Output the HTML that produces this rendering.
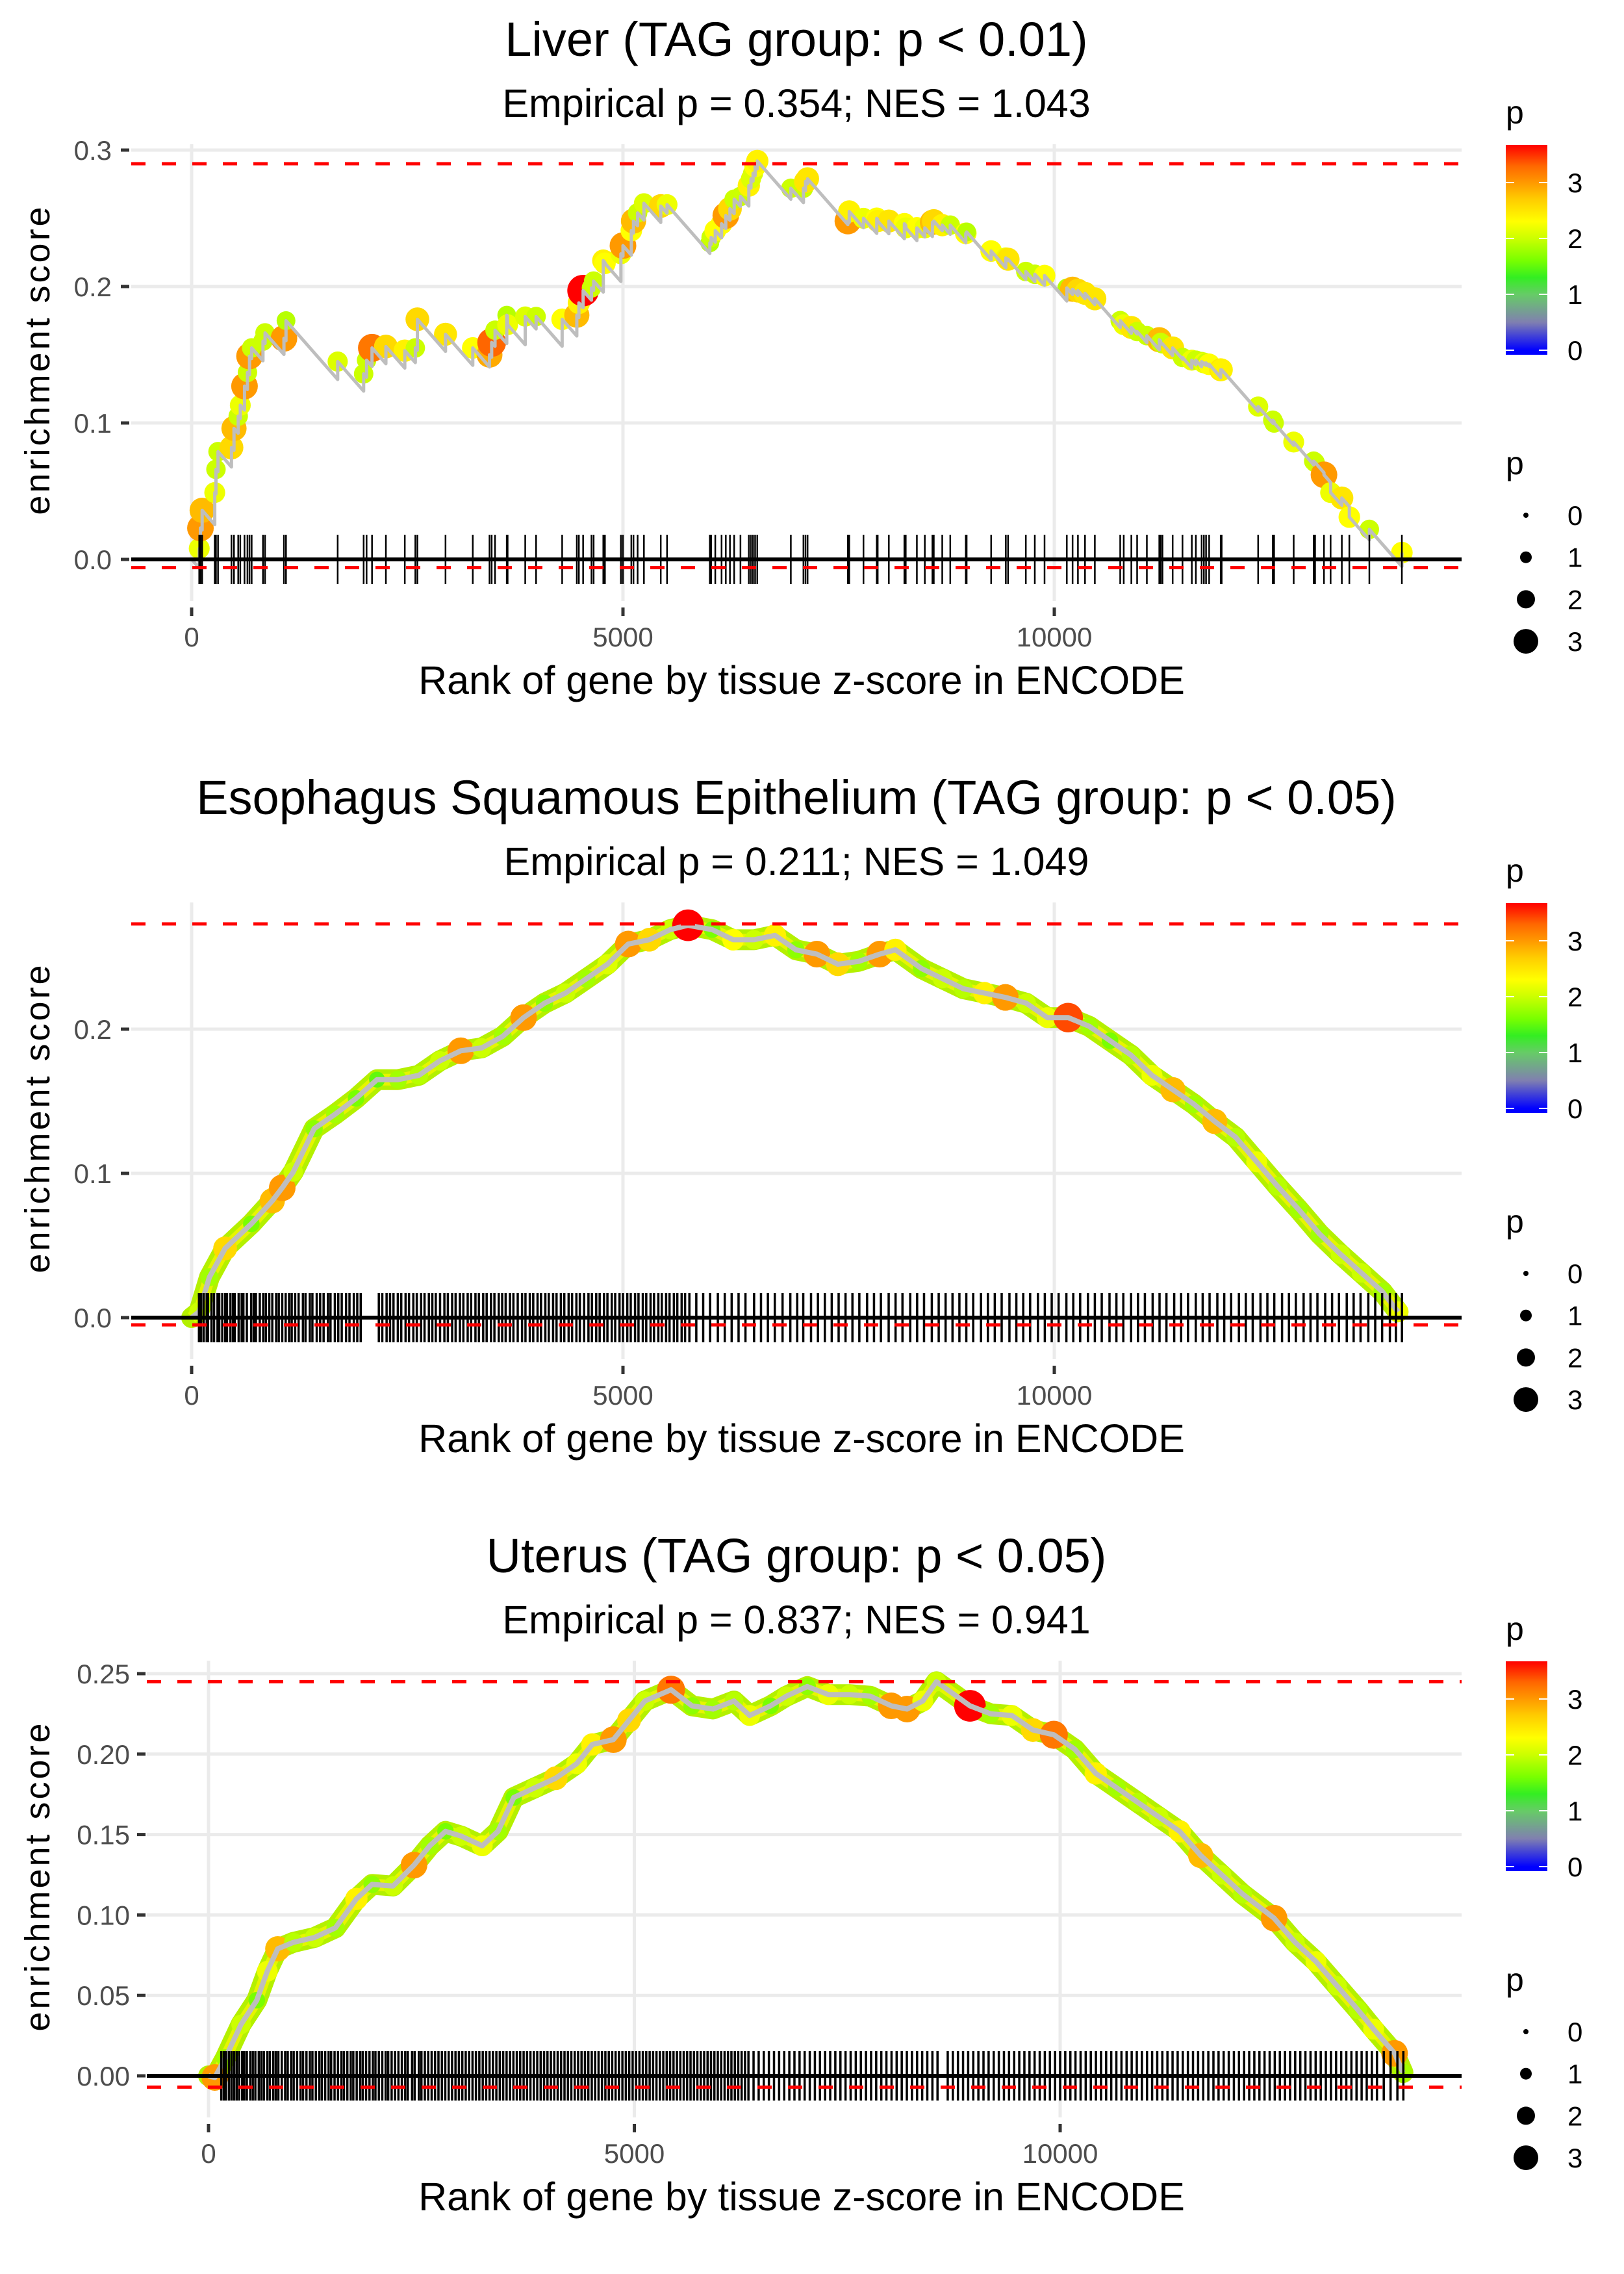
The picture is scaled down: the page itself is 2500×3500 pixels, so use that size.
<!DOCTYPE html>
<html><head><meta charset="utf-8"><style>
html,body{margin:0;padding:0;background:#fff}
svg{display:block}
text{font-family:"Liberation Sans",Arial,sans-serif}
</style></head><body>
<svg id="fig" width="2500" height="3500" viewBox="0 0 2500 3500" xmlns="http://www.w3.org/2000/svg"></svg>
<script>
// ---------- DATA ----------
const liverRank=[88,102,122,268,282,306,462,491,540,564,613,647,671,696,827,851,1070,1094,1693,1994,2028,2091,2252,2471,2593,2617,2943,3259,3453,3478,3517,3653,3663,3867,3993,4295,4465,4489,4538,4635,4660,4772,4791,4976,5000,5097,5122,5170,5243,5438,5511,6007,6022,6070,6143,6192,6240,6289,6362,6459,6484,6508,6532,6557,6946,7092,7116,7140,7607,7623,7788,7942,7953,8082,8262,8278,8407,8499,8587,8603,8701,8794,8974,8984,9268,9438,9464,9670,9774,9887,10145,10212,10274,10356,10470,10764,10805,10893,10960,11073,11217,11233,11254,11372,11486,11594,11641,11708,11734,11759,11795,11929,11940,12363,12533,12548,12775,13007,13023,13126,13203,13333,13420,13652,14029];
const liverES=[.008,.023,.036,.049,.066,.079,.082,.096,.105,.113,.127,.137,.149,.155,.160,.166,.162,.175,.145,.136,.146,.155,.156,.153,.155,.176,.165,.155,.150,.159,.168,.179,.172,.178,.178,.176,.179,.188,.197,.199,.204,.219,.217,.224,.230,.241,.248,.254,.261,.259,.260,.232,.236,.241,.246,.252,.257,.264,.266,.274,.279,.283,.288,.292,.272,.272,.277,.279,.248,.255,.250,.250,.248,.248,.246,.243,.243,.243,.247,.248,.245,.245,.239,.240,.226,.221,.220,.211,.209,.208,.199,.198,.197,.195,.191,.175,.172,.170,.167,.164,.161,.159,.158,.155,.148,.146,.146,.145,.144,.144,.143,.139,.139,.112,.102,.100,.086,.072,.071,.062,.049,.045,.031,.022,.005];
const liverP=[2.2,3.0,2.8,2.2,2.0,2.0,2.6,2.8,2.0,2.2,3.0,2.0,3.0,2.0,2.0,2.0,3.0,1.9,2.1,2.0,2.0,3.2,2.6,2.4,2.0,2.6,2.5,2.3,2.9,3.3,2.0,1.9,2.2,2.1,2.0,2.3,2.8,2.4,3.7,2.0,2.0,2.4,2.3,2.2,3.0,2.3,2.8,2.0,2.1,2.6,2.2,1.9,2.0,2.3,2.3,3.0,2.6,2.0,2.0,2.4,2.1,2.1,2.3,2.4,2.0,2.0,2.5,2.5,3.0,2.4,2.2,2.3,2.4,2.5,2.3,2.2,2.3,2.2,2.8,2.6,2.4,2.0,2.3,1.9,2.3,2.2,2.5,2.0,2.0,2.3,1.9,2.8,2.6,2.5,2.5,2.0,2.2,2.5,2.0,2.0,2.8,2.0,2.0,2.5,2.0,2.2,2.0,2.0,2.2,2.0,2.3,2.5,2.4,2.1,2.0,2.0,2.2,2.0,2.0,3.0,2.2,2.5,2.3,2.0,2.3];

const esoRank=[85,206,388,692,935,1050,1178,1420,1663,1906,2149,2392,2634,2877,3120,3363,3606,3848,4091,4334,4577,4820,5062,5305,5548,5754,6034,6277,6520,6762,7005,7248,7491,7733,7976,8158,8461,8704,8947,9190,9433,9675,9918,10161,10404,10646,10889,11132,11375,11618,11860,12103,12346,12589,12832,13075,13317,13560,13803,13985];
const esoES=[.004,.028,.048,.065,.081,.090,.101,.131,.141,.152,.165,.165,.168,.178,.185,.187,.195,.208,.218,.225,.235,.245,.259,.262,.269,.272,.269,.262,.262,.265,.255,.252,.245,.247,.252,.255,.242,.235,.228,.225,.222,.218,.208,.208,.202,.192,.182,.168,.158,.148,.136,.125,.108,.091,.075,.058,.044,.031,.018,.004];
const esoP=[2.0,1.8,2.6,1.6,2.8,3.0,2.0,1.7,1.8,1.6,1.5,1.8,1.9,2.0,3.0,2.0,1.8,3.0,1.7,2.0,1.8,2.1,3.0,2.6,2.0,3.7,1.6,2.3,2.0,2.4,1.7,3.0,2.6,1.8,3.0,2.4,1.7,2.0,1.9,2.4,3.0,2.0,2.2,3.4,1.8,1.6,1.9,2.2,2.8,1.8,2.8,1.9,2.2,1.9,1.8,1.8,2.0,2.0,1.8,2.2];
const esoRug=[85,110,140,175,190,230,260,300,320,355,390,410,450,480,500,545,580,600,640,690,720,745,790,830,860,900,935,980,1010,1050,1090,1130,1160,1200,1240,1290,1320,1370,1400,1450,1490,1530,1580,1610,1660,1700,1740,1790,1830,1880,1920,1960,2170,2210,2260,2300,2340,2390,2430,2480,2520,2570,2610,2660,2700,2750,2790,2830,2880,2930,2970,3020,3060,3110,3150,3200,3240,3290,3330,3380,3420,3470,3510,3560,3600,3640,3690,3730,3780,3830,3870,3920,3960,4010,4050,4100,4140,4190,4230,4280,4320,4370,4410,4460,4500,4550,4600,4640,4690,4730,4780,4820,4870,4910,4960,5000,5050,5090,5140,5180,5230,5270,5320,5360,5410,5450,5500,5540,5590,5630,5680,5720,5770,5850,5930,6010,6100,6180,6260,6340,6420,6520,6600,6680,6760,6850,6940,7020,7090,7180,7260,7340,7420,7500,7580,7660,7740,7830,7910,7990,8080,8160,8240,8330,8410,8490,8580,8660,8740,8820,8900,8980,9060,9150,9230,9310,9390,9480,9560,9640,9720,9810,9890,9970,10050,10140,10220,10300,10390,10470,10550,10640,10720,10800,10890,10970,11050,11140,11220,11300,11390,11470,11550,11640,11720,11800,11890,11970,12050,12140,12220,12300,12390,12470,12550,12640,12720,12800,12890,12970,13050,13140,13220,13300,13390,13470,13550,13640,13720,13800,13890,13960,14030];

const uteRank=[74,197,382,567,690,813,998,1244,1490,1736,1921,2167,2413,2598,2783,2968,3214,3399,3584,3830,4076,4323,4507,4754,4938,5123,5431,5677,5923,6170,6354,6600,6785,7031,7277,7524,7770,8017,8202,8387,8547,8941,9187,9433,9680,9926,10172,10418,10665,10911,11157,11403,11650,11896,12142,12512,12758,13004,13250,13497,13681,13927,14026];
const uteES=[-.001,.011,.032,.047,.065,.079,.083,.086,.092,.110,.119,.118,.131,.143,.152,.149,.143,.152,.173,.179,.185,.194,.206,.209,.221,.233,.240,.230,.228,.233,.224,.230,.236,.242,.237,.237,.236,.230,.228,.233,.245,.230,.225,.224,.215,.212,.203,.188,.179,.170,.161,.152,.137,.125,.113,.098,.083,.071,.056,.041,.029,.014,.002];
const uteP=[3.0,1.8,2.0,1.6,2.2,2.8,1.9,2.0,1.8,2.4,1.7,2.0,3.0,1.8,1.6,2.0,2.2,1.8,1.6,2.0,2.6,2.2,2.4,3.0,2.6,2.0,3.2,1.7,1.8,1.9,2.2,1.6,2.0,1.7,2.2,2.0,1.8,3.0,3.0,2.2,2.0,3.7,1.8,2.2,2.6,3.2,1.8,2.4,1.8,1.9,2.0,2.4,2.8,2.0,1.9,3.0,2.0,2.2,2.0,1.9,2.2,3.0,1.8];
const uteRug=[150,180,205,240,270,300,330,360,395,420,450,490,520,550,590,620,650,690,720,760,790,820,860,900,930,970,1000,1040,1080,1110,1150,1190,1220,1260,1300,1330,1370,1410,1440,1480,1520,1560,1590,1630,1670,1700,1740,1780,1810,1850,1890,1930,1960,2000,2040,2080,2110,2150,2190,2230,2270,2310,2340,2390,2420,2470,2500,2540,2580,2620,2660,2700,2740,2780,2820,2860,2900,2940,2980,3020,3060,3100,3140,3180,3220,3260,3300,3340,3380,3420,3460,3500,3540,3580,3620,3660,3700,3740,3780,3820,3860,3900,3940,3980,4020,4060,4100,4140,4180,4220,4260,4300,4340,4380,4420,4460,4500,4540,4580,4620,4660,4700,4740,4780,4820,4860,4900,4940,4980,5020,5060,5100,5140,5180,5220,5260,5300,5340,5380,5420,5460,5500,5540,5580,5620,5660,5700,5740,5780,5820,5860,5900,5940,5980,6020,6060,6100,6140,6180,6220,6260,6300,6340,6400,6460,6520,6580,6640,6700,6760,6820,6880,6940,7000,7060,7120,7180,7240,7300,7360,7420,7480,7540,7600,7660,7720,7780,7840,7900,7960,8020,8080,8140,8200,8260,8320,8380,8440,8500,8560,8680,8740,8800,8860,8920,8980,9040,9100,9160,9220,9280,9340,9400,9460,9520,9580,9640,9700,9760,9820,9880,9940,10000,10060,10120,10180,10240,10300,10360,10420,10480,10540,10600,10660,10720,10780,10840,10900,10960,11020,11080,11140,11200,11260,11320,11380,11440,11500,11560,11620,11680,11740,11800,11860,11920,11980,12040,12100,12160,12220,12280,12340,12400,12460,12520,12580,12640,12700,12760,12820,12880,12940,13000,13060,13120,13180,13240,13300,13360,13420,13480,13540,13600,13660,13720,13800,13880,13960,14030];

const xTickVals=[0,5000,10000];
const xTickLabels=["0","5000","10000"];
const liverYTicks=[0,0.1,0.2,0.3];
const liverYLabels=["0.0","0.1","0.2","0.3"];
const esoYTicks=[0,0.1,0.2];
const esoYLabels=["0.0","0.1","0.2"];
const uteYTicks=[0,0.05,0.10,0.15,0.20,0.25];
const uteYLabels=["0.00","0.05","0.10","0.15","0.20","0.25"];
const liverRefLines=[0.290,-0.006];
const esoRefLines=[0.273,-0.005];
const uteRefLines=[0.245,-0.007];
const legendColorTicks=[0,1,2,3];
const legendSizeVals=[0,1,2,3];

// ---------- RENDER ----------
const NS="http://www.w3.org/2000/svg";
const svg=document.getElementById('fig');
function el(tag,attrs,parent){const e=document.createElementNS(NS,tag);for(const k in attrs)e.setAttribute(k,attrs[k]);(parent||svg).appendChild(e);return e;}
const stops=[[0,[0,0,255]],[0.5,[128,128,176]],[1,[102,204,102]],[1.3,[51,238,34]],[1.6,[120,255,0]],[2,[204,255,0]],[2.3,[255,255,0]],[2.7,[255,204,0]],[3,[255,153,0]],[3.3,[255,102,0]],[3.67,[255,0,0]]];
function pColor(p){if(p<=0)return 'rgb(0,0,255)';for(let i=1;i<stops.length;i++){if(p<=stops[i][0]){const a=stops[i-1],b=stops[i],t=(p-a[0])/(b[0]-a[0]);const c=a[1].map((v,j)=>Math.round(v+(b[1][j]-v)*t));return `rgb(${c})`;}}return 'rgb(255,0,0)';}
function pRadius(p){return 4+5.5*p;}

const panels=[
 {name:'liver',title:'Liver (TAG group: p < 0.01)',sub:'Empirical p = 0.354; NES = 1.043',off:0,x0:295,xk:0.1328,y0:861,yk:2100,left:202,yTickRight:172,tickX0:186,
  ranks:liverRank,es:liverES,ps:liverP,rug:liverRank,yt:liverYTicks,yl:liverYLabels,ref:liverRefLines,penalty:7.2e-5,lw:5,band:0},
 {name:'esophagus',title:'Esophagus Squamous Epithelium (TAG group: p < 0.05)',sub:'Empirical p = 0.211; NES = 1.049',off:1167,x0:295,xk:0.1328,y0:861,yk:2220,left:202,yTickRight:172,tickX0:186,
  ranks:esoRank,es:esoES,ps:esoP,rug:esoRug,yt:esoYTicks,yl:esoYLabels,ref:esoRefLines,penalty:0,lw:8,band:24},
 {name:'uterus',title:'Uterus (TAG group: p < 0.05)',sub:'Empirical p = 0.837; NES = 0.941',off:2334,x0:321,xk:0.1311,y0:861,yk:2476,left:226,yTickRight:200,tickX0:211,
  ranks:uteRank,es:uteES,ps:uteP,rug:uteRug,yt:uteYTicks,yl:uteYLabels,ref:uteRefLines,penalty:0,lw:8,band:24}
];
const RIGHT=2250;
panels.forEach(P=>{
  const g=el('g',{});
  
  
  const X=r=>P.x0+r*P.xk;
  const Y=v=>P.off+P.y0-v*P.yk;
  const top=P.off+222,bot=P.off+925;
  const t=el('text',{x:1226,y:P.off+86,'text-anchor':'middle','font-size':74,fill:'#000'},g);t.textContent=P.title;
  
  const s=el('text',{x:1226,y:P.off+180,'text-anchor':'middle','font-size':61,fill:'#000'},g);s.textContent=P.sub;
  
  xTickVals.forEach(v=>{const l=el('line',{x1:X(v),x2:X(v),y1:top,y2:bot,stroke:'#ebebeb','stroke-width':5},g);
    });
  P.yt.forEach((v,i)=>{const l=el('line',{x1:P.left,x2:RIGHT,y1:Y(v),y2:Y(v),stroke:'#ebebeb','stroke-width':5},g);
    
    const tk=el('line',{x1:P.tickX0,x2:P.tickX0+13,y1:Y(v),y2:Y(v),stroke:'#333','stroke-width':5},g);
    
    const tl=el('text',{x:P.yTickRight,y:Y(v)+15,'text-anchor':'end','font-size':42,fill:'#4d4d4d'},g);tl.textContent=P.yl[i];
    });
  xTickVals.forEach((v,i)=>{const tk=el('line',{x1:X(v),x2:X(v),y1:P.off+935,y2:P.off+948,stroke:'#333','stroke-width':5},g);
    
    const tl=el('text',{x:X(v),y:P.off+995,'text-anchor':'middle','font-size':42,fill:'#4d4d4d'},g);tl.textContent=xTickLabels[i];
    });
  const xt=el('text',{x:1234,y:P.off+1068,'text-anchor':'middle','font-size':61,fill:'#000'},g);xt.textContent='Rank of gene by tissue z-score in ENCODE';
  
  const ym=(top+bot)/2-20;
  const yt=el('text',{x:0,y:0,'text-anchor':'middle','font-size':54,fill:'#000','letter-spacing':'4',transform:`translate(76,${ym}) rotate(-90)`},g);yt.textContent='enrichment score';
  
  let d=`M${X(0)},${Y(0)}`;let prevR=0,prevE=0;
  P.ranks.forEach((r,i)=>{if(P.penalty>0){const tr=prevE-P.penalty*(r-prevR);d+=` L${X(r)},${Y(tr)}`;}d+=` L${X(r)},${Y(P.es[i])}`;prevR=r;prevE=P.es[i];});
  if(P.band>0){
    const b1=el('path',{d:d,fill:'none',stroke:'#b4f000','stroke-width':P.band+8,'stroke-linejoin':'round','stroke-linecap':'round'},g);
    
    const b2=el('path',{d:d,fill:'none',stroke:'#e6f500','stroke-width':P.band-6,'stroke-linejoin':'round'},g);
    
  }
  P.ranks.forEach((r,i)=>{const c=el('circle',{cx:X(r),cy:Y(P.es[i]),r:pRadius(P.ps[i]),fill:pColor(P.ps[i])},g);
    });
  const ln=el('path',{d:d,fill:'none',stroke:'#bebebe','stroke-width':P.lw,'stroke-linejoin':'round'},g);
  
  const z=el('line',{x1:P.left,x2:RIGHT,y1:Y(0),y2:Y(0),stroke:'#000','stroke-width':6},g);
  
  P.rug.forEach(r=>{const l=el('line',{x1:X(r),x2:X(r),y1:Y(0)-38,y2:Y(0)+38,stroke:'#000','stroke-width':P.band>0?3.5:2.5},g);
    });
  P.ref.forEach(v=>{const l=el('line',{x1:P.left,x2:RIGHT,y1:Y(v),y2:Y(v),stroke:'#ff0000','stroke-width':5,'stroke-dasharray':'22 25'},g);
    });
  const lg=el('g',{},g);
  
  const pt=el('text',{x:2318,y:P.off+190,'font-size':50,fill:'#000'},lg);pt.textContent='p';
  
  const gid='grad'+P.name;
  const defs=el('defs',{},lg);const lgr=el('linearGradient',{id:gid,x1:0,y1:1,x2:0,y2:0},defs);
  const pmin=-0.08,pmax=3.67;
  el('stop',{offset:0,'stop-color':'rgb(0,0,255)'},lgr);
  stops.forEach(s=>el('stop',{offset:((s[0]-pmin)/(pmax-pmin)).toFixed(3),'stop-color':pColor(s[0])},lgr));
  const cb=el('rect',{x:2318,y:P.off+223,width:64,height:323,fill:`url(#${gid})`},lg);
  
  const CY=v=>P.off+539-v*86;
  legendColorTicks.forEach(v=>{el('line',{x1:2318,x2:2331,y1:CY(v),y2:CY(v),stroke:'#fff','stroke-width':2},lg);
    el('line',{x1:2369,x2:2382,y1:CY(v),y2:CY(v),stroke:'#fff','stroke-width':2},lg);
    const tl=el('text',{x:2413,y:CY(v)+15,'font-size':42,fill:'#000'},lg);tl.textContent=String(v);
    });
  const sg=el('g',{},g);
  
  const st=el('text',{x:2318,y:P.off+730,'font-size':50,fill:'#000'},sg);st.textContent='p';
  
  legendSizeVals.forEach((v,i)=>{const cy=P.off+793+i*64.7;
    const c=el('circle',{cx:2349,cy:cy,r:4+5*v,fill:'#000'},sg);
    
    const tl=el('text',{x:2413,y:cy+15,'font-size':42,fill:'#000'},sg);tl.textContent=String(v);
    });
});
</script>
</body></html>
